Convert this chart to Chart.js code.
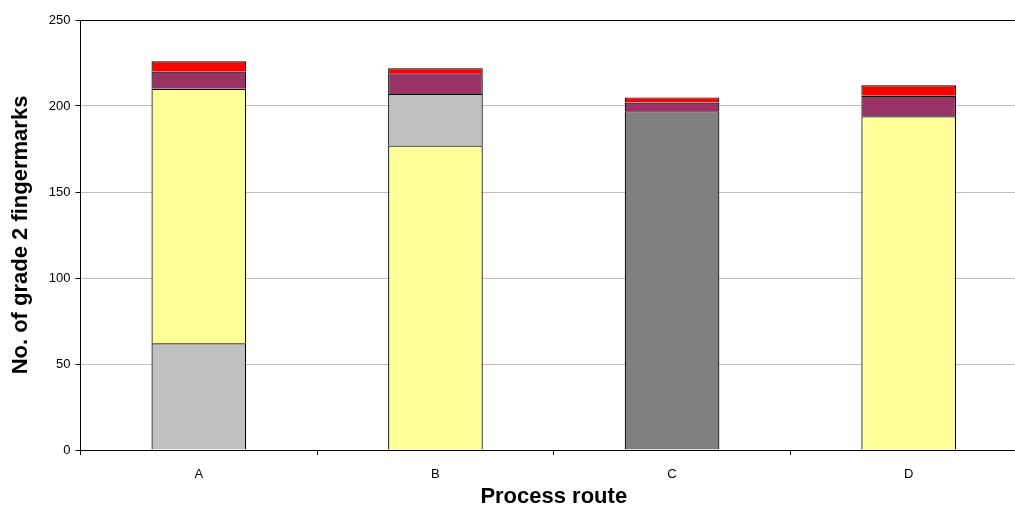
<!DOCTYPE html>
<html>
<head>
<meta charset="utf-8">
<script src="https://cdn.jsdelivr.net/npm/chart.js@4/dist/chart.umd.min.js"></script>
<style>
  html, body { margin: 0; padding: 0; overflow: hidden; background: #fff; }
  #wrap { width: 1028px; height: 510px; }
</style>
</head>
<body>
<div id="wrap"><canvas id="c" width="1028" height="510"></canvas></div>
<script>
// Process routes on the x axis
const routes = ['A', 'B', 'C', 'D'];

// Stacked segments per route (null where a segment is absent)
const darkGreyBase = [null, null, 197, null];
const greyBase     = [62, null, null, null];
const yellow       = [148, 177, null, 194];
const greyUpper    = [null, 30, null, null];
const purple       = [10, 12, 5, 12];
const red          = [6, 3, 3, 6];

const yTicks = [0, 50, 100, 150, 200, 250];

const FONT = "'Liberation Sans', Arial, sans-serif";

// One stacked segment; the bottom edge is left to the segment (or axis) below
function seg(data, color) {
  return {
    data: data,
    backgroundColor: color,
    borderColor: '#000',
    borderWidth: 1.2,
    borderSkipped: 'bottom',
    barPercentage: 0.4,
    categoryPercentage: 1.0,
    stack: 's'
  };
}

new Chart(document.getElementById('c'), {
  type: 'bar',
  data: {
    labels: routes,
    datasets: [
      seg(darkGreyBase, '#808080'),
      seg(greyBase, '#C0C0C0'),
      seg(yellow, '#FFFF99'),
      seg(greyUpper, '#C0C0C0'),
      seg(purple, '#993366'),
      seg(red, '#FF0000')
    ]
  },
  options: {
    responsive: false,
    animation: false,
    devicePixelRatio: 1,
    layout: { padding: { top: 20, right: 1, left: 0, bottom: 0 } },
    plugins: { legend: { display: false }, tooltip: { enabled: false } },
    scales: {
      x: {
        stacked: true,
        afterFit: s => { s.height = 60; },
        grid: {
          offset: true,
          drawOnChartArea: false,
          drawTicks: true,
          tickLength: 5,
          tickColor: '#000'
        },
        border: { display: true, color: '#000', width: 1 },
        ticks: { color: '#000', font: { family: FONT, size: 13 }, padding: 12 },
        title: {
          display: true,
          text: 'Process route',
          color: '#000',
          font: { family: FONT, size: 22, weight: 'bold' },
          padding: { top: 0, bottom: 0 }
        }
      },
      y: {
        stacked: true,
        min: 0,
        max: 250,
        afterFit: s => { s.width = 80.5; },
        afterBuildTicks: s => { s.ticks = yTicks.map(v => ({ value: v })); },
        grid: {
          color: ctx => (ctx.tick && ctx.tick.value === 250) ? '#000' : '#C0C0C0',
          tickColor: '#000',
          tickLength: 5
        },
        border: { display: true, color: '#000', width: 1 },
        ticks: { color: '#000', font: { family: FONT, size: 13 }, padding: 5 },
        title: {
          display: true,
          text: 'No. of grade 2 fingermarks',
          color: '#000',
          font: { family: FONT, size: 22, weight: 'bold' },
          padding: { top: 8, bottom: 0 }
        }
      }
    }
  }
});
</script>
</body>
</html>
